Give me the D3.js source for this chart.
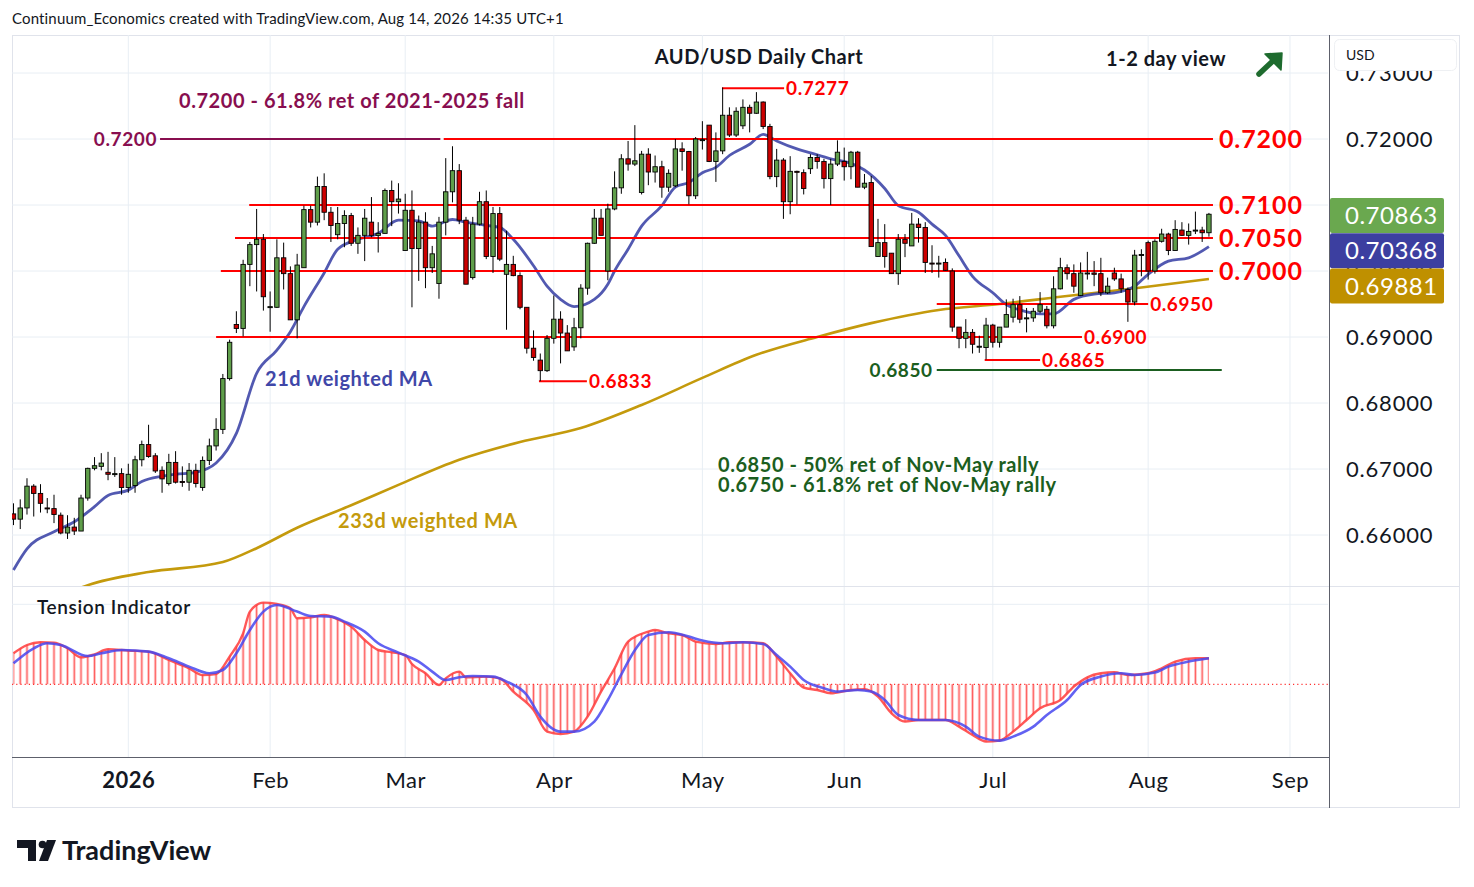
<!DOCTYPE html>
<html>
<head>
<meta charset="utf-8">
<script src="https://cdn.jsdelivr.net/npm/d3@7"></script>
<style>
  body { margin: 0; background: #fff; }
  svg { display: block; font-family: Lato, "Noto Sans", sans-serif; }
</style>
</head>
<body>
<div id="chart"></div>
<script>
// ---- data ----
// bar index 0 = 2 Jan 2026, one bar per trading day
const firstBar = -17;
// [open, high, low, close]
const candles = [
  [0.6632,0.6648,0.6615,0.6624],[0.6624,0.6654,0.6609,0.6641],[0.6641,0.6686,0.6631,0.6674],[0.6674,0.6677,0.6628,0.6663],
  [0.6663,0.6677,0.6634,0.6648],[0.6641,0.6656,0.6633,0.6640],[0.6640,0.6661,0.6618,0.6631],[0.6630,0.6634,0.6601,0.6603],
  [0.6603,0.6630,0.6594,0.6612],[0.6612,0.6626,0.6600,0.6606],[0.6606,0.6661,0.6606,0.6656],[0.6656,0.6702,0.6652,0.6701],
  [0.6701,0.6718,0.6698,0.6705],[0.6704,0.6724,0.6698,0.6709],[0.6695,0.6726,0.6683,0.6692],[0.6693,0.6718,0.6688,0.6693],
  [0.6693,0.6701,0.6661,0.6672],
  [0.6672,0.6708,0.6664,0.6692],[0.6675,0.6720,0.6664,0.6714],[0.6714,0.6743,0.6704,0.6737],[0.6737,0.6767,0.6717,0.6719],
  [0.6720,0.6724,0.6694,0.6697],[0.6698,0.6704,0.6664,0.6685],[0.6678,0.6723,0.6675,0.6710],[0.6710,0.6727,0.6678,0.6680],
  [0.6681,0.6704,0.6673,0.6680],[0.6680,0.6709,0.6667,0.6698],[0.6698,0.6708,0.6672,0.6678],[0.6672,0.6719,0.6667,0.6713],
  [0.6713,0.6746,0.6706,0.6735],[0.6735,0.6777,0.6728,0.6760],[0.6760,0.6844,0.6753,0.6837],[0.6837,0.6896,0.6834,0.6892],
  [0.6919,0.6939,0.6906,0.6913],[0.6913,0.7017,0.6901,0.7010],[0.7010,0.7044,0.6977,0.7040],[0.7040,0.7094,0.6969,0.7048],
  [0.7048,0.7056,0.6940,0.6961],[0.6945,0.6969,0.6908,0.6946],[0.6945,0.7048,0.6944,0.7020],[0.7020,0.7043,0.6972,0.6996],
  [0.6996,0.7007,0.6926,0.6926],[0.6926,0.7026,0.6898,0.7009],[0.7005,0.7099,0.7005,0.7093],[0.7093,0.7099,0.7066,0.7074],
  [0.7074,0.7143,0.7069,0.7128],[0.7128,0.7148,0.7077,0.7089],[0.7089,0.7097,0.7044,0.7069],[0.7055,0.7097,0.7048,0.7072],
  [0.7072,0.7092,0.7036,0.7084],[0.7084,0.7088,0.7038,0.7042],[0.7042,0.7066,0.7026,0.7054],[0.7054,0.7094,0.7015,0.7080],
  [0.7074,0.7112,0.7051,0.7054],[0.7054,0.7074,0.7028,0.7057],[0.7057,0.7125,0.7057,0.7122],[0.7122,0.7137,0.7068,0.7105],
  [0.7105,0.7133,0.7087,0.7109],[0.7031,0.7117,0.7031,0.7092],[0.7092,0.7122,0.6945,0.7034],[0.7034,0.7084,0.6985,0.7074],
  [0.7074,0.7089,0.6974,0.7005],[0.7005,0.7038,0.6997,0.7026],[0.6981,0.7082,0.6958,0.7074],[0.7074,0.7171,0.7054,0.7120],
  [0.7120,0.7189,0.7104,0.7152],[0.7152,0.7162,0.7071,0.7077],[0.7077,0.7082,0.6980,0.6980],[0.6990,0.7082,0.6987,0.7071],
  [0.7071,0.7120,0.7069,0.7105],[0.7105,0.7122,0.7018,0.7022],[0.7022,0.7097,0.6997,0.7087],[0.7087,0.7097,0.7015,0.7018],
  [0.6995,0.7061,0.6911,0.7010],[0.7010,0.7023,0.6992,0.6993],[0.6993,0.6998,0.6942,0.6945],[0.6945,0.6945,0.6875,0.6883],
  [0.6883,0.6910,0.6864,0.6869],[0.6865,0.6875,0.6833,0.6849],[0.6849,0.6903,0.6847,0.6898],[0.6898,0.6963,0.6890,0.6927],
  [0.6927,0.6939,0.6860,0.6906],[0.6906,0.6918,0.6879,0.6879],[0.6885,0.6929,0.6879,0.6914],[0.6914,0.6980,0.6898,0.6974],
  [0.6974,0.7043,0.6964,0.7042],[0.7042,0.7094,0.7041,0.7080],[0.7080,0.7094,0.7054,0.7054],[0.7000,0.7102,0.6986,0.7094],
  [0.7094,0.7151,0.7092,0.7126],[0.7126,0.7177,0.7117,0.7170],[0.7170,0.7197,0.7152,0.7162],[0.7162,0.7221,0.7159,0.7167],
  [0.7119,0.7182,0.7116,0.7177],[0.7177,0.7186,0.7130,0.7150],[0.7150,0.7175,0.7134,0.7158],[0.7158,0.7167,0.7111,0.7127],
  [0.7127,0.7154,0.7120,0.7148],[0.7129,0.7200,0.7127,0.7185],[0.7185,0.7195,0.7152,0.7181],[0.7181,0.7182,0.7101,0.7114],
  [0.7114,0.7203,0.7109,0.7200],[0.7198,0.7227,0.7184,0.7199],[0.7221,0.7221,0.7165,0.7166],[0.7166,0.7210,0.7135,0.7182],
  [0.7182,0.7278,0.7177,0.7236],[0.7236,0.7248,0.7203,0.7206],[0.7206,0.7248,0.7203,0.7242],[0.7220,0.7260,0.7215,0.7248],
  [0.7248,0.7252,0.7210,0.7239],[0.7239,0.7271,0.7238,0.7256],[0.7256,0.7257,0.7215,0.7219],[0.7219,0.7223,0.7139,0.7143],
  [0.7143,0.7185,0.7127,0.7168],[0.7168,0.7171,0.7079,0.7105],[0.7105,0.7174,0.7086,0.7151],[0.7151,0.7152,0.7101,0.7150],
  [0.7149,0.7154,0.7116,0.7125],[0.7155,0.7177,0.7147,0.7172],[0.7172,0.7177,0.7155,0.7166],[0.7166,0.7170,0.7125,0.7140],
  [0.7140,0.7170,0.7100,0.7162],[0.7162,0.7198,0.7159,0.7180],[0.7166,0.7187,0.7137,0.7158],[0.7158,0.7182,0.7139,0.7180],
  [0.7180,0.7182,0.7127,0.7127],[0.7127,0.7147,0.7124,0.7133],[0.7134,0.7144,0.7037,0.7037],[0.7022,0.7079,0.7022,0.7043],
  [0.7043,0.7071,0.7005,0.7022],[0.7027,0.7027,0.6996,0.6996],[0.6996,0.7056,0.6979,0.7048],[0.7048,0.7056,0.7021,0.7042],
  [0.7038,0.7088,0.7038,0.7071],[0.7071,0.7080,0.7043,0.7066],[0.7066,0.7074,0.6997,0.7013],[0.7012,0.7039,0.6997,0.7011],
  [0.7012,0.7023,0.6990,0.7012],[0.7013,0.7019,0.7000,0.7001],[0.7000,0.7004,0.6908,0.6915],[0.6915,0.6915,0.6883,0.6898],
  [0.6898,0.6927,0.6883,0.6907],[0.6907,0.6912,0.6875,0.6889],[0.6886,0.6902,0.6876,0.6886],[0.6884,0.6929,0.6866,0.6918],
  [0.6918,0.6920,0.6884,0.6892],[0.6892,0.6915,0.6884,0.6915],[0.6915,0.6957,0.6915,0.6934],[0.6930,0.6958,0.6922,0.6949],
  [0.6949,0.6962,0.6921,0.6927],[0.6929,0.6944,0.6907,0.6929],[0.6929,0.6944,0.6923,0.6939],[0.6939,0.6968,0.6936,0.6949],
  [0.6942,0.6947,0.6913,0.6917],[0.6917,0.6992,0.6913,0.6973],[0.6973,0.7020,0.6972,0.7005],[0.7005,0.7010,0.6987,0.6996],
  [0.6996,0.7010,0.6967,0.6977],[0.6963,0.7013,0.6962,0.6997],[0.6997,0.7029,0.6987,0.6997],[0.6997,0.7015,0.6977,0.6995],
  [0.6996,0.7020,0.6962,0.6967],[0.6967,0.6990,0.6965,0.6977],[0.6997,0.7005,0.6985,0.6988],[0.6988,0.6996,0.6967,0.6973],
  [0.6972,0.6975,0.6923,0.6953],[0.6953,0.7032,0.6948,0.7024],[0.7024,0.7033,0.6992,0.7025],[0.7043,0.7046,0.6987,0.7000],
  [0.7000,0.7048,0.6996,0.7045],[0.7045,0.7064,0.7043,0.7056],[0.7056,0.7058,0.7024,0.7031],[0.7031,0.7077,0.7031,0.7063],
  [0.7062,0.7074,0.7053,0.7054],[0.7054,0.7072,0.7040,0.7060],[0.7061,0.7090,0.7056,0.7062],[0.7062,0.7067,0.7044,0.7058],
  [0.7058,0.7088,0.7052,0.7086]
];

// moving averages, [bar index, value]
const wma21 = [[-17,0.6547],[-15,0.6579],[-11,0.6605],[-8,0.6620],[-5,0.6643],[-3,0.6660],[0,0.6668],[2,0.6681],[5,0.6689],[7,0.6692],
  [10,0.6695],[13,0.6709],[16,0.6754],[19,0.6845],[22,0.6880],[24,0.6908],[26,0.6946],[29,0.6997],[31,0.7033],[34,0.7048],
  [37,0.7057],[40,0.7077],[43,0.7076],[45,0.7068],[48,0.7078],[50,0.7074],[53,0.7069],[55,0.7066],[57,0.7048],[60,0.7008],
  [62,0.6977],[64,0.6957],[66,0.6946],[69,0.6957],[71,0.6980],[72,0.7000],[74,0.7033],[76,0.7068],[79,0.7099],[81,0.7127],
  [83,0.7134],[85,0.7149],[87,0.7157],[89,0.7175],[92,0.7192],[94,0.7207],[96,0.7197],[99,0.7185],[101,0.7179],[104,0.7170],
  [107,0.7163],[109,0.7153],[112,0.7125],[114,0.7099],[117,0.7089],[119,0.7071],[121,0.7054],[123,0.7023],[125,0.6992],[128,0.6967],
  [130,0.6949],[132,0.6941],[135,0.6935],[137,0.6935],[140,0.6957],[143,0.6965],[146,0.6967],[149,0.6977],[151,0.6995],[154,0.7015],
  [157,0.7020],[160,0.7037]];
const wma233 = [[-10,0.6508],[-6,0.6524],[3,0.6544],[14,0.6559],[19,0.6580],[25,0.6611],[33,0.6645],[40,0.6676],[49,0.6714],[58,0.6741],
  [67,0.6762],[76,0.6797],[85,0.6838],[93,0.6873],[102,0.6900],[110,0.6921],[120,0.6941],[129,0.6950],[138,0.6961],[150,0.6975],[160,0.6988]];

// tension indicator, [bar index, value]
const tensionRed = [[-17,31],[-15,39.3],[-13,42],[-11,41.7],[-9,36],[-7,27],[-5,30],[-3,35],[0,33.7],[3,32.7],[6,24.3],[9,16],
  [11,9.3],[13,10.3],[15,27.7],[17,51],[18,72.7],[20,81.7],[22,80.3],[24,76],[25,66],[27,67],[29,69.3],[31,65],[33,57.7],[35,44.3],
  [37,34.3],[39,32],[41,29.3],[42,20.3],[44,11],[46,-0.7],[47,6],[49,12.7],[50,7],[53,7.7],[55,6],[57,-7.3],[60,-25.7],[62,-47.3],
  [64,-49.7],[66,-47.3],[68,-32.3],[70,-7.3],[72,16],[74,42.7],[77,52.7],[78,54.3],[80,51],[82,49.3],[84,42.7],[87,40.3],[89,42],
  [91,42],[94,41],[96,27.7],[98,11],[100,-3.3],[102,-5.7],[104,-9],[107,-5.7],[109,-5],[111,-12.3],[113,-29],[115,-37.3],[117,-35.7],
  [121,-35.7],[123,-42.3],[125,-50.7],[127,-57.3],[129,-56.3],[131,-47.3],[133,-35.7],[135,-24],[138,-15.7],[140,-2.3],[142,7],
  [144,11],[146,12],[148,9.3],[151,11],[153,16],[155,22.7],[158,26],[160,26]];
const tensionBlue = [[-17,21],[-14,36],[-12,41],[-10,39.3],[-6,28.3],[-4,31],[-1,34.3],[3,32.7],[6,26],[9,17.7],[12,11],[14,14.3],
  [16,31],[18,54.3],[20,72.7],[22,79.3],[25,72.7],[27,68.3],[30,67.7],[32,62.7],[35,52.7],[37,41],[40,31.7],[43,22.7],[45,12.7],
  [47,4.3],[49,7],[51,8.3],[54,7.7],[56,2.7],[59,-10.7],[61,-32.3],[64,-47.3],[66,-47.3],[69,-37.3],[71,-15.7],[73,10],[75,34],
  [77,49.3],[80,52],[83,47.7],[85,43.7],[88,41],[91,42],[94,40.3],[96,29.3],[98,17.7],[100,4.3],[103,-4],[105,-7.3],[108,-5.7],
  [110,-7.3],[112,-15.7],[114,-30.7],[117,-35.7],[121,-35.7],[124,-42.3],[126,-52.3],[129,-56.3],[131,-52.3],[134,-42.3],[136,-30.7],
  [139,-15.7],[141,-0.7],[144,7.7],[147,11],[149,9.3],[152,11.7],[154,17.7],[157,22.7],[160,26]];

// horizontal levels: price, first / last bar index, label
const levels = [
  {price:0.7200, from:46.7, to:160.6, label:'0.7200'},
  {price:0.7100, from:17.9, to:160.6, label:'0.7100'},
  {price:0.7050, from:15.8, to:160.6, label:'0.7050'},
  {price:0.7000, from:13.7, to:160.6, label:'0.7000'},
  {price:0.6950, from:119.7, to:151.0, label:'0.6950'},
  {price:0.6900, from:13.0, to:141.2, label:'0.6900'},
  {price:0.7277, from:87.9, to:97.1, label:'0.7277'},
  {price:0.6865, from:126.8, to:135.0, label:'0.6865'},
  {price:0.6833, from:60.8, to:67.9, label:'0.6833'}
];
const majorLevels = ['0.7200','0.7100','0.7050','0.7000'];
const fibLevel = {price:0.7200, from:4.7, to:46.2, label:'0.7200'};
const retLevel = {price:0.6850, from:119.7, to:161.9, label:'0.6850'};

const priceTicks = [0.66, 0.67, 0.68, 0.69, 0.70, 0.71, 0.72, 0.73];
const monthTicks = [['2026',0],['Feb',21],['Mar',41],['Apr',63],['May',85],['Jun',106],['Jul',128],['Aug',151],['Sep',172]];
const lastValues = [['0.70863','#6aa84f'],['0.70368','#3c3fa0'],['0.69881','#bf9000']];

// ---- layout ----
const W = 1474, H = 887;
const left = 12, right = 1328;
const mainTop = 35, mainBottom = 586, tenTop = 588, tenBottom = 757;

const svg = d3.select('#chart').append('svg').attr('width', W).attr('height', H);

const x = d3.scaleLinear().domain([-17.22, 177.63]).range([left, right]);
const y = d3.scaleLinear().domain([0.66, 0.72]).range([535, 139]);
const yT = d3.scaleLinear().domain([-72.7, 96.3]).range([tenBottom, tenTop]);
const step = x(1) - x(0);

const defs = svg.append('defs');
defs.append('clipPath').attr('id', 'clipMain').append('rect')
  .attr('x', left).attr('y', mainTop).attr('width', right - left).attr('height', mainBottom - mainTop);
defs.append('clipPath').attr('id', 'clipTen').append('rect')
  .attr('x', left).attr('y', tenTop).attr('width', right - left).attr('height', tenBottom - tenTop);
defs.append('pattern').attr('id', 'hatch').attr('patternUnits', 'userSpaceOnUse')
  .attr('x', x(0) - step / 2).attr('y', 0).attr('width', step).attr('height', H)
  .append('line').attr('x1', step / 2).attr('x2', step / 2).attr('y1', 0).attr('y2', H)
  .attr('stroke', '#ff4a4a').attr('stroke-width', 1.7);

// header
svg.append('text').attr('x', 12).attr('y', 24).attr('font-size', 15).attr('letter-spacing', 0.15)
  .attr('fill', '#131722')
  .text('Continuum_Economics created with TradingView.com, Aug 14, 2026 14:35 UTC+1');

// frame
svg.append('rect').attr('x', 12.5).attr('y', 35.5).attr('width', 1447).attr('height', 772)
  .attr('fill', 'none').attr('stroke', '#e0e3eb');

// grid
const grid = svg.append('g');
grid.selectAll('.hg').data(priceTicks).join('line')
  .attr('x1', left).attr('x2', right).attr('y1', d => y(d)).attr('y2', d => y(d))
  .attr('stroke', '#e8eef4');
grid.append('line').attr('x1', left).attr('x2', right).attr('y1', yT(80)).attr('y2', yT(80)).attr('stroke', '#e8eef4');
grid.selectAll('.vg').data(monthTicks).join('line')
  .attr('x1', d => x(d[1])).attr('x2', d => x(d[1])).attr('y1', mainTop).attr('y2', tenBottom)
  .attr('stroke', '#e8eef4');
svg.append('line').attr('x1', left).attr('x2', 1460).attr('y1', mainBottom + 0.5).attr('y2', mainBottom + 0.5).attr('stroke', '#e0e3eb');

// ---- main pane ----
const main = svg.append('g').attr('clip-path', 'url(#clipMain)');

const line = d3.line().x(d => x(d[0])).y(d => y(d[1])).curve(d3.curveMonotoneX);
main.append('path').datum(wma233).attr('d', line).attr('fill', 'none')
  .attr('stroke', '#c49a0c').attr('stroke-width', 2.6);
main.append('path').datum(wma21).attr('d', line).attr('fill', 'none')
  .attr('stroke', '#3f47a8').attr('stroke-width', 2.8).attr('opacity', 0.9);

// level lines
const lv = main.append('g');
lv.selectAll('line').data(levels).join('line')
  .attr('x1', d => x(d.from)).attr('x2', d => x(d.to))
  .attr('y1', d => y(d.price)).attr('y2', d => y(d.price))
  .attr('stroke', '#ff0000').attr('stroke-width', 2);
lv.append('line').attr('x1', x(fibLevel.from)).attr('x2', x(fibLevel.to))
  .attr('y1', y(fibLevel.price)).attr('y2', y(fibLevel.price))
  .attr('stroke', '#880e4f').attr('stroke-width', 2);
lv.append('line').attr('x1', x(retLevel.from)).attr('x2', x(retLevel.to))
  .attr('y1', y(retLevel.price)).attr('y2', y(retLevel.price))
  .attr('stroke', '#1b5e20').attr('stroke-width', 2);

// candles
const bars = candles.map((c, i) => ({i: firstBar + i, o: c[0], h: c[1], l: c[2], c: c[3]}));
const cg = main.append('g');
cg.selectAll('line').data(bars).join('line')
  .attr('x1', d => x(d.i)).attr('x2', d => x(d.i))
  .attr('y1', d => y(d.h)).attr('y2', d => y(d.l))
  .attr('stroke', '#000').attr('stroke-width', 1);
cg.selectAll('rect').data(bars).join('rect')
  .attr('x', d => x(d.i) - 2.2).attr('width', 4.4)
  .attr('y', d => y(Math.max(d.o, d.c)))
  .attr('height', d => Math.max(1, Math.abs(y(d.o) - y(d.c))))
  .attr('fill', d => d.c >= d.o ? '#5f9e4a' : '#cc0000')
  .attr('stroke', '#000').attr('stroke-width', 0.9);

// level labels
svg.selectAll('.lvl').data(levels).join('text')
  .attr('x', d => x(d.to) + (majorLevels.includes(d.label) ? 6 : 2))
  .attr('y', d => y(d.price)).attr('dy', '0.36em')
  .attr('font-size', d => majorLevels.includes(d.label) ? 25 : 19)
  .attr('letter-spacing', d => majorLevels.includes(d.label) ? 0.9 : 0.6)
  .attr('font-weight', 'bold').attr('fill', '#ff0000')
  .text(d => d.label);
svg.append('text').attr('x', x(fibLevel.from) - 3).attr('y', y(fibLevel.price)).attr('dy', '0.36em')
  .attr('text-anchor', 'end').attr('font-size', 19).attr('letter-spacing', 0.6)
  .attr('font-weight', 'bold').attr('fill', '#880e4f')
  .text(fibLevel.label);
svg.append('text').attr('x', x(retLevel.from) - 4).attr('y', y(retLevel.price)).attr('dy', '0.36em')
  .attr('text-anchor', 'end').attr('font-size', 19).attr('letter-spacing', 0.6)
  .attr('font-weight', 'bold').attr('fill', '#1b5e20')
  .text(retLevel.label);

// annotations
const notes = svg.append('g').attr('font-weight', 'bold').attr('font-size', 20).attr('letter-spacing', 0.55);
notes.append('text').attr('x', 759).attr('y', 64).attr('text-anchor', 'middle').attr('fill', '#131722').text('AUD/USD Daily Chart');
notes.append('text').attr('x', 1166).attr('y', 66).attr('text-anchor', 'middle').attr('fill', '#131722').text('1-2 day view');
notes.append('text').attr('x', 179).attr('y', 108).attr('fill', '#880e4f').text('0.7200 - 61.8% ret of 2021-2025 fall');
notes.append('text').attr('x', 265).attr('y', 386).attr('fill', '#3f47a8').text('21d weighted MA');
notes.append('text').attr('x', 338).attr('y', 528).attr('fill', '#c49a0c').text('233d weighted MA');
notes.append('text').attr('x', 718).attr('y', 472).attr('fill', '#1b5e20').text('0.6850 - 50% ret of Nov-May rally');
notes.append('text').attr('x', 718).attr('y', 492).attr('fill', '#1b5e20').text('0.6750 - 61.8% ret of Nov-May rally');

// up arrow
const arrow = svg.append('g').attr('fill', '#1e6b2e').attr('stroke', '#1e6b2e');
arrow.append('line').attr('x1', 1259).attr('y1', 74).attr('x2', 1275).attr('y2', 59)
  .attr('stroke-width', 5.5).attr('stroke-linecap', 'round');
arrow.append('path').attr('d', 'M1265,54 L1282,53 L1281,70 Z').attr('stroke-width', 1.5).attr('stroke-linejoin', 'round');

// ---- tension pane ----
const ten = svg.append('g').attr('clip-path', 'url(#clipTen)');
ten.append('path').datum(tensionRed)
  .attr('d', d3.area().x(d => x(d[0])).y0(yT(0)).y1(d => yT(d[1])).curve(d3.curveMonotoneX))
  .attr('fill', 'url(#hatch)').attr('opacity', 0.9);
ten.append('line').attr('x1', left).attr('x2', right).attr('y1', yT(0)).attr('y2', yT(0))
  .attr('stroke', '#ff3030').attr('stroke-width', 1.2).attr('stroke-dasharray', '1.2,3');
const tline = d3.line().x(d => x(d[0])).y(d => yT(d[1])).curve(d3.curveMonotoneX);
ten.append('path').datum(tensionRed).attr('d', tline).attr('fill', 'none')
  .attr('stroke', '#ff3b3b').attr('stroke-width', 2.4).attr('opacity', 0.85);
ten.append('path').datum(tensionBlue).attr('d', tline).attr('fill', 'none')
  .attr('stroke', '#4646f0').attr('stroke-width', 2.6).attr('opacity', 0.85);
svg.append('text').attr('x', 37).attr('y', 614).attr('font-size', 19).attr('font-weight', 600)
  .attr('letter-spacing', 0.6).attr('fill', '#131722').text('Tension Indicator');

// ---- axes ----
svg.append('line').attr('x1', left).attr('x2', 1329).attr('y1', tenBottom + 0.5).attr('y2', tenBottom + 0.5)
  .attr('stroke', '#5d606b');
svg.append('line').attr('x1', 1329.5).attr('x2', 1329.5).attr('y1', mainTop).attr('y2', 808)
  .attr('stroke', '#5d606b');

const yAxis = svg.append('g').attr('transform', `translate(1346,0)`)
  .call(d3.axisRight(y).tickValues(priceTicks).tickFormat(d3.format('.5f')).tickSize(0).tickPadding(0));
yAxis.select('.domain').remove();
yAxis.selectAll('text').attr('font-size', 22).attr('letter-spacing', 0.8).attr('fill', '#131722')
  .attr('font-family', 'Lato, "Noto Sans", sans-serif');

const xAxis = svg.append('g').attr('transform', `translate(0,${tenBottom})`)
  .call(d3.axisBottom(x).tickValues(monthTicks.map(d => d[1]))
    .tickFormat((d, i) => monthTicks[i][0]).tickSize(0).tickPadding(15));
xAxis.select('.domain').remove();
xAxis.selectAll('text').attr('font-size', 22).attr('letter-spacing', 0.5).attr('fill', '#131722')
  .attr('font-family', 'Lato, "Noto Sans", sans-serif')
  .attr('font-weight', (d, i) => i === 0 ? 'bold' : 'normal');

// USD box
svg.append('rect').attr('x', 1334.5).attr('y', 39.5).attr('width', 122).attr('height', 31).attr('rx', 5)
  .attr('fill', '#fff').attr('stroke', '#eef0f3');
svg.append('text').attr('x', 1346).attr('y', 60).attr('font-size', 14).attr('fill', '#131722').text('USD');

// last value labels
const lbl = svg.append('g');
lastValues.forEach((d, i) => {
  const top = 198 + i * 35.3;
  lbl.append('rect').attr('x', 1330).attr('y', top).attr('width', 114).attr('height', 35).attr('rx', 2).attr('fill', d[1]);
  lbl.append('text').attr('x', 1345).attr('y', top + 17.5).attr('dy', '0.36em')
    .attr('font-size', 24).attr('letter-spacing', 0.5).attr('fill', '#fff').text(d[0]);
});

// TradingView mark
const logo = svg.append('g').attr('fill', '#131722');
logo.append('path').attr('d', 'M17,840 H36 V861 H28 V848 H17 Z');
logo.append('circle').attr('cx', 42.5).attr('cy', 844.5).attr('r', 3.8);
logo.append('path').attr('d', 'M47,840 H56 L48,861 H39 Z');
logo.append('text').attr('x', 62).attr('y', 860).attr('font-size', 27).attr('font-weight', 'bold')
  .attr('letter-spacing', 0).text('TradingView');
</script>
</body>
</html>
